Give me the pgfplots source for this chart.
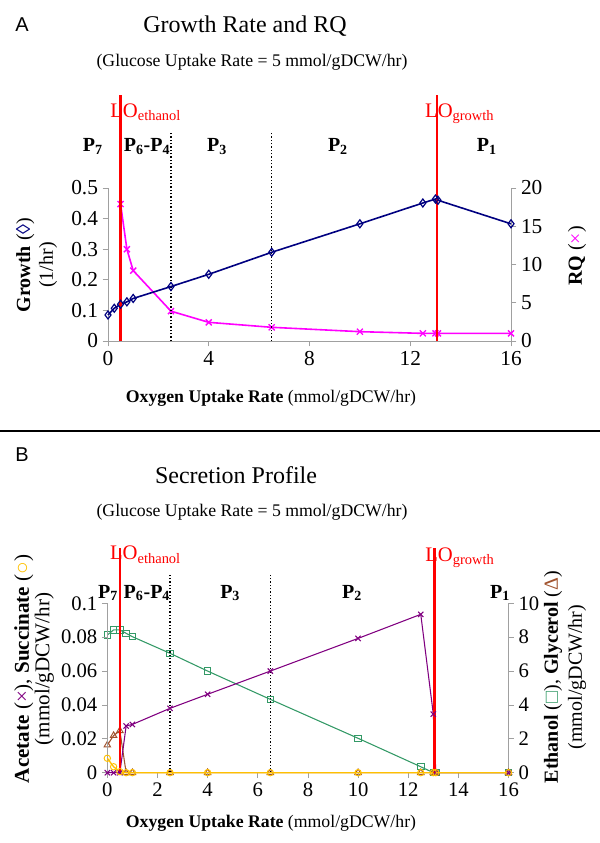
\documentclass[border=0pt]{standalone}
\usepackage{graphicx}
\usepackage{pgfplots}
\pgfplotsset{compat=1.18}
\usepackage{fontspec}
\setmainfont{Liberation Serif}
\newfontfamily\sansf{Liberation Sans}
\definecolor{growthc}{HTML}{000080}
\definecolor{rqc}{HTML}{FF00FF}
\definecolor{acec}{HTML}{800080}
\definecolor{ethc}{HTML}{339966}
\definecolor{glyc}{HTML}{A0522D}
\definecolor{succc}{HTML}{FFC000}
\definecolor{axc}{HTML}{A0A0A0}
\newcommand{\fs}[1]{\fontsize{#1}{#1}\selectfont}
\pgfplotsset{
  base/.style={scale only axis,
    xmin=0, xmax=16,
    axis line style={axc, line width=0.6pt},
    tick style={axc, line width=0.6pt},
    tick align=outside, major tick length=4pt,
    /pgf/number format/assume math mode=true,
    tick label style={font=\fs{16}},
    scaled ticks=false,
  },
}
\begin{document}
\begin{tikzpicture}
\path[use as bounding box] (0,0) rectangle (450pt,-632.25pt);

% ---------------- Panel A ----------------
\begin{axis}[base, at={(81pt,-255.75pt)}, anchor=south west,
  width=302.25pt, height=114.75pt, clip=true,
  axis x line=none, axis y line*=right,
  ymin=0, ymax=20, ytick={0,5,10,15,20}]
\addplot[rqc, line width=1.2pt, no marks] coordinates {(0.25,35) (0.5,17.9)};
\addplot[rqc, line width=1.2pt, mark=x, mark size=3.2pt, mark options={line width=1pt}] coordinates {
(0.5,17.9) (0.75,12.0) (1,9.2) (2.5,3.9) (4,2.44) (6.5,1.79) (10,1.22) (12.5,1.0) (13,1.0) (13.1,1.0) (16,1.0)};
\end{axis}

\begin{axis}[base, at={(81pt,-255.75pt)}, anchor=south west,
  width=302.25pt, height=114.75pt, clip=false,
  axis x line*=bottom, axis y line*=left,
  ymin=0, ymax=0.5, xtick={0,4,8,12,16}, ytick={0,0.1,0.2,0.3,0.4,0.5},
  yticklabel style={/pgf/number format/fixed}]
\addplot[black, line width=1pt, dash pattern=on 1pt off 1.5pt] coordinates {(2.5,0) (2.5,0.686)};
\addplot[black, line width=1pt, dash pattern=on 1pt off 1.5pt] coordinates {(6.5,0) (6.5,0.686)};
\addplot[growthc, line width=1.2pt, mark=diamond, mark size=3pt, mark options={fill=white, line width=0.9pt}] coordinates {
(0,0.085) (0.25,0.107) (0.5,0.12) (0.75,0.128) (1,0.139) (2.5,0.178) (4,0.218) (6.5,0.29) (10,0.383) (12.5,0.451) (13,0.464) (13.1,0.46) (16,0.383)};
\addplot[red, line width=2pt] coordinates {(0.5,0) (0.5,0.804)};
\addplot[red, line width=1.6pt] coordinates {(13.05,0) (13.05,0.804)};
\node[red, anchor=base west, font=\fs{15.5}, inner sep=0pt] at (axis cs:0.08,0.732) {LO\textsubscript{ethanol}};
\node[red, anchor=base west, font=\fs{15.5}, inner sep=0pt] at (axis cs:12.58,0.732) {LO\textsubscript{growth}};
\node[anchor=base, font=\fs{15}\bfseries, inner sep=0pt] at (axis cs:-0.6,0.619) {P\textsubscript{7}};
\node[anchor=base, font=\fs{15}\bfseries, inner sep=0pt] at (axis cs:1.55,0.619) {P\textsubscript{6}-P\textsubscript{4}};
\node[anchor=base, font=\fs{15}\bfseries, inner sep=0pt] at (axis cs:4.33,0.619) {P\textsubscript{3}};
\node[anchor=base, font=\fs{15}\bfseries, inner sep=0pt] at (axis cs:9.13,0.619) {P\textsubscript{2}};
\node[anchor=base, font=\fs{15}\bfseries, inner sep=0pt] at (axis cs:15.04,0.619) {P\textsubscript{1}};
\end{axis}

\node[font=\sansf\fs{15}] at (16.5pt,-18.75pt) {A};
\node[font=\fs{18}] at (183.75pt,-19.5pt) {Growth Rate and RQ};
\node[font=\fs{13.3}] at (189pt,-46.5pt) {(Glucose Uptake Rate = 5 mmol/gDCW/hr)};
\node[font=\fs{13.3}] at (203.25pt,-298.5pt) {\textbf{Oxygen Uptake Rate} (mmol/gDCW/hr)};
\node[rotate=90, align=center, font=\fontsize{15}{17}\selectfont] at (27.5pt,-198.75pt) {\textbf{Growth} ({\color{growthc}◊})\\(1/hr)};
\node[rotate=90, font=\fs{15}] at (432.75pt,-192pt) {\textbf{RQ} ({\color{rqc}×})};

\draw[line width=1.5pt] (0,-323.25pt) -- (450pt,-323.25pt);

% ---------------- Panel B ----------------
\begin{axis}[base, at={(80.5pt,-579.5pt)}, anchor=south west,
  width=300.9pt, height=127pt, clip=false,
  axis x line=none, axis y line*=right,
  ymin=0, ymax=10, ytick={0,2,4,6,8,10}, tick label style={font=\fs{15.5}}]
\addplot[ethc, line width=0.8pt, mark=square, mark size=2.4pt, mark options={fill=white, line width=0.7pt}] coordinates {
(0,8.13) (0.25,8.43) (0.5,8.43) (0.75,8.23) (1,8.03) (2.5,7.05) (4,6.0) (6.5,4.33) (10,2.03) (12.5,0.35) (13,0) (13.1,0) (16,0)};
\addplot[glyc, line width=0.8pt, mark=triangle, mark size=2.8pt, mark options={fill=white, line width=0.7pt}] coordinates {
(0,1.63) (0.25,2.19) (0.5,2.48) (0.75,0) (1,0) (2.5,0) (4,0) (6.5,0) (10,0) (12.5,0) (13,0) (13.1,0) (16,0)};
\end{axis}

\begin{axis}[base, at={(80.5pt,-579.5pt)}, anchor=south west,
  width=300.9pt, height=127pt, clip=false,
  axis x line*=bottom, axis y line*=left, tick label style={font=\fs{15.5}},
  ymin=0, ymax=0.1, xtick={0,2,4,6,8,10,12,14,16}, ytick={0,0.02,0.04,0.06,0.08,0.1},
  yticklabel style={/pgf/number format/fixed, /pgf/number format/precision=2}]
\addplot[black, line width=1pt, dash pattern=on 1pt off 1.5pt] coordinates {(2.5,0) (2.5,0.118)};
\addplot[black, line width=1pt, dash pattern=on 1pt off 1.5pt] coordinates {(6.5,0) (6.5,0.118)};
\addplot[acec, line width=0.8pt, mark=x, mark size=2.8pt, mark options={line width=0.8pt}] coordinates {
(0,0) (0.25,0) (0.5,0) (0.75,0.0276) (1,0.0285) (2.5,0.038) (4,0.0463) (6.5,0.060) (10,0.0793) (12.5,0.0935) (13,0.0346) (13.1,0) (16,0)};
\addplot[succc, line width=1pt, mark=o, mark size=2.4pt, mark options={fill=white, line width=0.7pt}] coordinates {
(0,0.0085) (0.25,0.0035) (0.5,0.0006) (0.75,0) (1,0) (2.5,0) (4,0) (6.5,0) (10,0) (12.5,0) (13,0) (13.1,0) (16,0)};
\addplot[red, line width=2pt] coordinates {(0.5,0) (0.5,0.1326)};
\addplot[red, line width=1.6pt] coordinates {(13.05,0) (13.05,0.1326)};
\node[red, anchor=base west, font=\fs{15.5}, inner sep=0pt] at (axis cs:0.1,0.1256) {LO\textsubscript{ethanol}};
\node[red, anchor=base west, font=\fs{15.5}, inner sep=0pt] at (axis cs:12.67,0.1250) {LO\textsubscript{growth}};
\node[anchor=base, font=\fs{15}\bfseries, inner sep=0pt] at (axis cs:0.03,0.1031) {P\textsubscript{7}};
\node[anchor=base, font=\fs{15}\bfseries, inner sep=0pt] at (axis cs:1.58,0.1031) {P\textsubscript{6}-P\textsubscript{4}};
\node[anchor=base, font=\fs{15}\bfseries, inner sep=0pt] at (axis cs:4.9,0.1031) {P\textsubscript{3}};
\node[anchor=base, font=\fs{15}\bfseries, inner sep=0pt] at (axis cs:9.76,0.1031) {P\textsubscript{2}};
\node[anchor=base, font=\fs{15}\bfseries, inner sep=0pt] at (axis cs:15.66,0.1031) {P\textsubscript{1}};
\end{axis}

\node[font=\sansf\fs{15}] at (16.5pt,-341.25pt) {B};
\node[font=\fs{18}] at (177pt,-356.25pt) {Secretion Profile};
\node[font=\fs{13.3}] at (189pt,-384pt) {(Glucose Uptake Rate = 5 mmol/gDCW/hr)};
\node[font=\fs{13.3}] at (203.25pt,-617.25pt) {\textbf{Oxygen Uptake Rate} (mmol/gDCW/hr)};
\node[rotate=90, align=center, font=\fontsize{15.8}{13.5}\selectfont] at (25.5pt,-501.75pt) {\textbf{Acetate} ({\color{acec}×}), \textbf{Succinate} ({\color{succc}○})\\(mmol/gDCW/hr)};
\node[rotate=90, align=center, font=\fontsize{15}{18}\selectfont] at (423.75pt,-507.75pt) {\textbf{Ethanol} ({\color{ethc}□}), \textbf{Glycerol} ({\color{glyc}Δ})\\(mmol/gDCW/hr)};
\end{tikzpicture}
\end{document}
